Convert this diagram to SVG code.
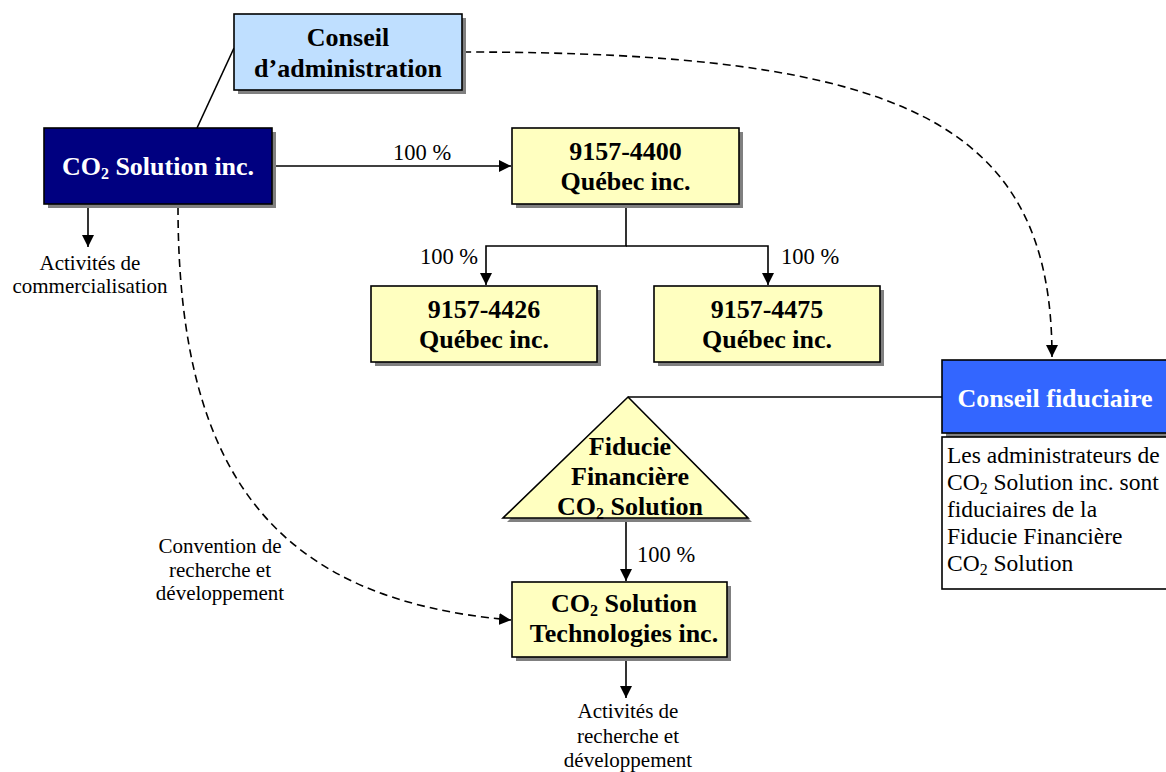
<svg xmlns="http://www.w3.org/2000/svg" width="1166" height="772" viewBox="0 0 1166 772">
<defs>
<marker id="arr" markerUnits="userSpaceOnUse" markerWidth="13" markerHeight="13" refX="12" refY="6" orient="auto">
<path d="M0,0 L12,6 L0,12 z" fill="#000"/>
</marker>
<style>
.box{stroke:#000;stroke-width:1.6}
.sh{fill:#808080}
.nt{font-family:"Liberation Serif","Times New Roman",serif;font-weight:bold;font-size:26px;text-anchor:middle;fill:#000}
.wt{fill:#fff}
.lb{font-family:"Liberation Serif","Times New Roman",serif;font-size:21px;fill:#000}
.pc{font-size:22.5px}
.ds{font-family:"Liberation Serif","Times New Roman",serif;font-size:23.5px;fill:#000}
.mid{text-anchor:middle}
.end{text-anchor:end}
.ln{fill:none;stroke:#000;stroke-width:1.6}
.dash{fill:none;stroke:#000;stroke-width:1.6;stroke-dasharray:8 5}
.sub{font-size:16px}
</style>
</defs>
<rect width="1166" height="772" fill="#fff"/>

<g id="connectors">
<line class="ln" x1="234" y1="48" x2="197" y2="128"/>
<line class="ln" x1="272" y1="166" x2="511" y2="166" marker-end="url(#arr)"/>
<polyline class="ln" points="626,204 626,246 486,246 486,285" marker-end="url(#arr)"/>
<polyline class="ln" points="626,246 768,246 768,285" marker-end="url(#arr)"/>
<line class="ln" x1="88" y1="204" x2="88" y2="247" marker-end="url(#arr)"/>
<line class="ln" x1="628" y1="397" x2="942" y2="397"/>
<line class="ln" x1="626" y1="518" x2="626" y2="581" marker-end="url(#arr)"/>
<line class="ln" x1="626" y1="657" x2="626" y2="698" marker-end="url(#arr)"/>
<path class="dash" d="M463,52 C900,52 1052,120 1052,357" marker-end="url(#arr)"/>
<path class="dash" d="M178,207 C178,480 280,600 511,620" marker-end="url(#arr)"/>
<text class="lb pc" x="393" y="160">100 %</text>
<text class="lb pc end" x="478" y="264">100 %</text>
<text class="lb pc" x="781" y="264">100 %</text>
<text class="lb pc" x="637" y="562">100 %</text>
<text class="lb mid" x="90" y="270">Activités de</text>
<text class="lb mid" x="90" y="293">commercialisation</text>
<text class="lb mid" x="220" y="553">Convention de</text>
<text class="lb mid" x="220" y="577">recherche et</text>
<text class="lb mid" x="220" y="600">développement</text>
<text class="lb mid" x="628" y="718">Activités de</text>
<text class="lb mid" x="628" y="743">recherche et</text>
<text class="lb mid" x="628" y="767">développement</text>
</g>

<g id="conseil-administration">
<rect class="sh" x="238" y="18" width="228" height="76"/>
<rect class="box" x="234" y="14" width="228" height="76" fill="#BFDFFF"/>
<text class="nt" x="348" y="46">Conseil</text>
<text class="nt" x="348" y="77">d’administration</text>
</g>

<g id="co2-solution">
<rect class="sh" x="48" y="132" width="228" height="76"/>
<rect class="box" x="44" y="128" width="228" height="76" fill="#000080"/>
<text class="nt wt" x="158" y="175">CO<tspan class="sub" dy="4">2</tspan><tspan dy="-4"> Solution inc.</tspan></text>
</g>

<g id="q4400">
<rect class="sh" x="516" y="132" width="227" height="76"/>
<rect class="box" x="512" y="128" width="227" height="76" fill="#FFFFC0"/>
<text class="nt" x="625.5" y="160">9157-4400</text>
<text class="nt" x="625.5" y="190">Québec inc.</text>
</g>

<g id="q4426">
<rect class="sh" x="375" y="290" width="226" height="76"/>
<rect class="box" x="371" y="286" width="226" height="76" fill="#FFFFC0"/>
<text class="nt" x="484" y="318">9157-4426</text>
<text class="nt" x="484" y="348">Québec inc.</text>
</g>

<g id="q4475">
<rect class="sh" x="658" y="290" width="226" height="76"/>
<rect class="box" x="654" y="286" width="226" height="76" fill="#FFFFC0"/>
<text class="nt" x="767" y="318">9157-4475</text>
<text class="nt" x="767" y="348">Québec inc.</text>
</g>

<g id="fiducie">
<polygon class="sh" points="632,401 752,522 507,522"/>
<polygon class="box" points="628,397 748,518 503,518" fill="#FFFFC0"/>
<text class="nt" x="630" y="455">Fiducie</text>
<text class="nt" x="630" y="485">Financière</text>
<text class="nt" x="630" y="515">CO<tspan class="sub" dy="4">2</tspan><tspan dy="-4"> Solution</tspan></text>
</g>

<g id="co2-technologies">
<rect class="sh" x="516" y="586" width="215" height="75"/>
<rect class="box" x="512" y="582" width="215" height="75" fill="#FFFFC0"/>
<text class="nt" x="624" y="612">CO<tspan class="sub" dy="4">2</tspan><tspan dy="-4"> Solution</tspan></text>
<text class="nt" x="624" y="642">Technologies inc.</text>
</g>

<g id="conseil-fiduciaire">
<rect class="sh" x="946" y="364" width="230" height="73"/>
<rect class="box" x="942" y="360" width="230" height="73" fill="#3366FF"/>
<text class="nt wt" x="1055" y="407">Conseil fiduciaire</text>
<rect class="box" x="942" y="437" width="230" height="152" fill="#fff"/>
<text class="ds" x="947" y="463">Les administrateurs de</text>
<text class="ds" x="947" y="490">CO<tspan class="sub" dy="4">2</tspan><tspan dy="-4"> Solution inc. sont</tspan></text>
<text class="ds" x="947" y="517">fiduciaires de la</text>
<text class="ds" x="947" y="544">Fiducie Financière</text>
<text class="ds" x="947" y="571">CO<tspan class="sub" dy="4">2</tspan><tspan dy="-4"> Solution</tspan></text>
</g>
</svg>
